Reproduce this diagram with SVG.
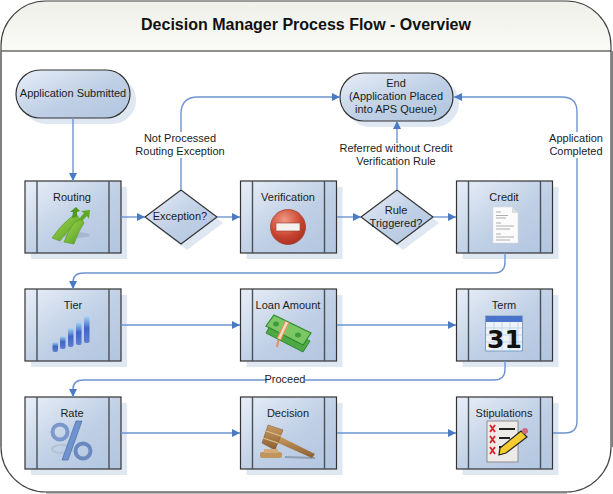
<svg xmlns="http://www.w3.org/2000/svg" width="613" height="494" viewBox="0 0 613 494">
<style>
text{font-family:"Liberation Sans",Arial,sans-serif;font-size:11px;fill:#1c1c1c;text-anchor:middle}
.title{font-size:16px;font-weight:bold;fill:#111}
.box{fill:url(#bg);stroke:#333;stroke-width:1.2}
.sh{fill:#dfe7f3}
.bar{stroke:#4a5058;stroke-width:1.4;fill:none}
.c{fill:none;stroke:#6d94d0;stroke-width:1.4}
.lb{fill:#fff}
</style>
<defs>
<linearGradient id="bg" x1="0" y1="0" x2="1" y2="1"><stop offset="0" stop-color="#e8eef7"/><stop offset=".55" stop-color="#bfcfe5"/><stop offset="1" stop-color="#b2c6e0"/></linearGradient>
<linearGradient id="hd" x1="0" y1="0" x2="0" y2="1"><stop offset="0" stop-color="#eff0e9"/><stop offset="1" stop-color="#fafaf7"/></linearGradient>
<linearGradient id="blu" x1="0" y1="0" x2="0" y2="1"><stop offset="0" stop-color="#a8d8f5"/><stop offset=".45" stop-color="#3f66c6"/><stop offset="1" stop-color="#5f7fd0"/></linearGradient>
<linearGradient id="grn" x1="0" y1="0" x2="1" y2="1"><stop offset="0" stop-color="#a6dc55"/><stop offset="1" stop-color="#4f9a1e"/></linearGradient>
<radialGradient id="red" cx=".4" cy=".3" r=".8"><stop offset="0" stop-color="#ef9a85"/><stop offset=".6" stop-color="#c9432f"/><stop offset="1" stop-color="#9e2a1c"/></radialGradient>
<linearGradient id="wood" x1="0" y1="0" x2="0" y2="1"><stop offset="0" stop-color="#c99b62"/><stop offset="1" stop-color="#8a5f30"/></linearGradient>
<marker id="a" markerUnits="userSpaceOnUse" markerWidth="9" markerHeight="9" refX="8" refY="4.500" orient="auto"><path d="M0 .5L8 4.500L0 8.500Z" fill="#4a7cc4"/></marker>
<g id="pr"><rect class="sh" x="6" y="6" width="96" height="72"/><rect class="box" width="96" height="72"/><path class="bar" d="M12 0V72M84 0V72"/></g>
</defs>

<g id="frame">
<path d="M1 51V46A45 45 0 0 1 46 1H567A45 45 0 0 1 611 46V51Z" fill="url(#hd)"/>
<rect x="1" y="1" width="610" height="491" rx="45" ry="45" fill="none" stroke="#444" stroke-width="1.2"/>
<path d="M1 51H611" stroke="#222" stroke-width="1.2"/>
<path d="M1 51V447M612 51V447M46 492.500H567" stroke="#808080" stroke-width="2" fill="none"/>
<text class="title" x="306" y="30">Decision Manager Process Flow - Overview</text>
</g>

<g id="start"><rect class="sh" x="22" y="76" width="114" height="48" rx="24"/><rect class="box" x="16" y="70" width="114" height="48" rx="24"/><text x="73" y="97">Application Submitted</text></g>
<g id="end"><rect class="sh" x="346" y="79" width="113" height="48" rx="24"/><rect class="box" x="340" y="73" width="113" height="48" rx="24"/><text x="396" y="87">End</text><text x="396" y="100">(Application Placed</text><text x="396" y="113">into APS Queue)</text></g>

<g id="exception"><path class="sh" d="M151 223L187 196L223 223L187 250Z"/><path class="box" d="M145 217L181 190L217 217L181 244Z"/><text x="180" y="220">Exception?</text></g>
<g id="rule"><path class="sh" d="M367 223L403 196L439 223L403 250Z"/><path class="box" d="M361 217L397 190L433 217L397 244Z"/><text x="396" y="214">Rule</text><text x="396" y="227">Triggered?</text></g>

<g id="routing"><use href="#pr" x="25" y="181"/><text x="72" y="201">Routing</text>
<ellipse cx="76" cy="235" rx="14" ry="3" fill="#a9b8cc"/>
<path d="M52 238Q60 226 70 218L76 214L80 219Q68 230 60 241Z" fill="url(#grn)" stroke="#4c8c1c" stroke-width=".5"/>
<path d="M64 242Q68 230 75 222L82 219L84 223Q78 232 74 244Z" fill="url(#grn)" stroke="#4c8c1c" stroke-width=".5"/>
<path d="M72 218L73 212L70 212L76 207L80 211L77 212L77 217Z" fill="#4f9a1e"/>
<path d="M79 219L84 213L81 211L90 210L89 219L87 216L82 221Z" fill="#5ea822"/></g>

<g id="verification"><use href="#pr" x="240.500" y="181"/><text x="288" y="201">Verification</text>
<circle cx="288" cy="227" r="17.500" fill="url(#red)" stroke="#a8402e" stroke-width=".8"/>
<rect x="276" y="223" width="24" height="8" fill="#f4f1ee" stroke="#9c3a2a" stroke-width=".6"/></g>

<g id="credit"><use href="#pr" x="456.500" y="181"/><text x="504" y="201">Credit</text>
<path d="M493 207H512L518 213V243H493Z" fill="#fbfbfb" stroke="#d2d6da" stroke-width=".5"/>
<path d="M512 207V213H518Z" fill="#dcdcdc"/>
<path d="M496 212H501M496 215.500H508M496 218H506M496 223H501M496 226H514M496 229H510M496 234H501M496 237H514M496 240H510" stroke="#8c8c8c" stroke-width=".7"/></g>

<g id="tier"><use href="#pr" x="25" y="289"/><text x="73" y="309">Tier</text>
<rect x="52.500" y="342" width="5.500" height="10" rx="2" fill="url(#blu)"/>
<rect x="60" y="336" width="5.500" height="13" rx="2" fill="url(#blu)"/>
<rect x="68" y="328" width="5.500" height="19" rx="2" fill="url(#blu)"/>
<rect x="76" y="322" width="5.500" height="23" rx="2" fill="url(#blu)"/>
<rect x="84" y="316" width="5.500" height="27" rx="2" fill="url(#blu)"/></g>

<g id="loan"><use href="#pr" x="240.500" y="289"/><text x="288" y="309">Loan Amount</text>
<path d="M266 333L272 322L310 341L303 352Z" fill="#4ea843" stroke="#2f8a30" stroke-width="1"/>
<path d="M266 326L274 315L311 333L303 345Z" fill="#7cc764" stroke="#2f8a30" stroke-width="1.200"/>
<path d="M287 322L279 339" stroke="#f2dcc4" stroke-width="3.500"/>
<path d="M285.500 320.500L277.500 338M289 322.500L280.500 340" stroke="#e88f55" stroke-width="1.200"/>
<path d="M278.500 340L277 347" stroke="#e88f55" stroke-width="2"/>
<ellipse cx="276" cy="324" rx="3" ry="2.500" fill="#3f9a3c"/>
<ellipse cx="298" cy="335" rx="3" ry="2.500" fill="#3f9a3c"/></g>

<g id="term"><use href="#pr" x="456.500" y="289"/><text x="504" y="309">Term</text>
<rect x="485.500" y="316" width="37" height="35" fill="#eef3f9" stroke="#7f9dc2"/>
<rect x="486" y="316" width="36" height="6" fill="#4a74cc"/>
<path d="M486 328H522M486 335H522M486 342H522M494 322V351M502 322V351M510 322V351M518 322V351" stroke="#b9cbe2" stroke-width=".7"/>
<text x="504.500" y="348" style="font-size:25px;font-weight:bold;fill:#111;font-family:'DejaVu Sans',sans-serif">31</text></g>

<g id="rate"><use href="#pr" x="25" y="397"/><text x="72" y="417">Rate</text>
<ellipse cx="62" cy="449" rx="10" ry="4" fill="none" stroke="#b4c2d6" stroke-width="2"/>
<circle cx="60" cy="432" r="7.500" fill="none" stroke="#7a98cc" stroke-width="4"/>
<circle cx="83" cy="451" r="7.500" fill="none" stroke="#6a8abf" stroke-width="4"/>
<path d="M76 421L82 421L68 460L62 460Z" fill="#6f93cf" stroke="#3f62a0" stroke-width=".6"/></g>

<g id="decision"><use href="#pr" x="240.500" y="397"/><text x="288" y="417">Decision</text>
<path d="M285 457L315 458" stroke="#8e9db2" stroke-width="2"/>
<path d="M279 436L315 454L312 458L276 442Z" fill="url(#wood)"/>
<path d="M268 425L283 430L275 450L262 443Z" fill="url(#wood)" stroke="#7a5228" stroke-width=".5"/>
<path d="M266 431L281 436M263 438L278 443" stroke="#e0bf90" stroke-width="1.200"/>
<rect x="260" y="452" width="22" height="6" rx="2" fill="#c19560"/>
<rect x="264" y="449" width="14" height="4" fill="#d2ab78"/></g>

<g id="stipulations"><use href="#pr" x="456.500" y="397"/><text x="504" y="417">Stipulations</text>
<rect x="487" y="421" width="31" height="41" fill="#ecebe8" stroke="#8d8d8d"/>
<path d="M490 425L495 432M495 425L490 432M490 436L495 443M495 436L490 443M490 447L495 454M495 447L490 454" stroke="#d8232a" stroke-width="1.800"/>
<path d="M499 429H515M499 438H510M499 447H504" stroke="#222" stroke-width="1.800"/>
<path d="M500 448L521 431L527 437L506 453L499 455Z" fill="#f4cc30" stroke="#222" stroke-width="1.200"/>
<circle cx="525" cy="431" r="3" fill="#d4687a"/></g>

<g id="connectors">
<path class="c" d="M73 118V181" marker-end="url(#a)"/>
<path class="c" d="M121 217H145" marker-end="url(#a)"/>
<path class="c" d="M217 217H240" marker-end="url(#a)"/>
<path class="c" d="M337 217H361" marker-end="url(#a)"/>
<path class="c" d="M433 217H456" marker-end="url(#a)"/>
<path class="c" d="M181 190V114Q181 97 198 97H340" marker-end="url(#a)"/>
<path class="c" d="M397 190V121" marker-end="url(#a)"/>
<path class="c" d="M553 433H565Q577 433 577 421V112Q577 97 562 97H454" marker-end="url(#a)"/>
<path class="c" d="M505 253V262Q505 273 494 273H84Q73 273 73 282V289" marker-end="url(#a)"/>
<path class="c" d="M121 325H240" marker-end="url(#a)"/>
<path class="c" d="M337 325H456" marker-end="url(#a)"/>
<path class="c" d="M505 361V369Q505 380 494 380H84Q73 380 73 389V397" marker-end="url(#a)"/>
<path class="c" d="M121 433H240" marker-end="url(#a)"/>
<path class="c" d="M337 433H456" marker-end="url(#a)"/>
</g>

<g id="labels">
<rect class="lb" x="136" y="132" width="90" height="26"/>
<text x="180" y="142">Not Processed</text><text x="180" y="155">Routing Exception</text>
<rect class="lb" x="340" y="143" width="113" height="25"/>
<text x="396" y="152">Referred without Credit</text><text x="396" y="165">Verification Rule</text>
<rect class="lb" x="550" y="132" width="53" height="26"/>
<text x="576" y="142">Application</text><text x="576" y="155">Completed</text>
<rect class="lb" x="266" y="374" width="39" height="12"/>
<text x="285" y="383">Proceed</text>
</g>
</svg>
